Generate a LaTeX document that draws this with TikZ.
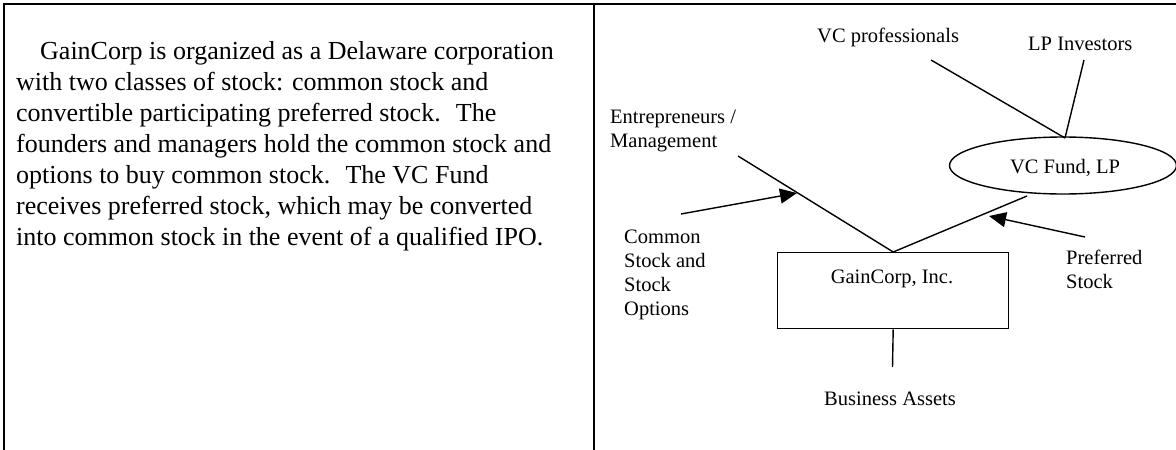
\documentclass[tikz,border=0pt]{standalone}
\usepackage{fontspec}
\setmainfont{Liberation Serif}
\usetikzlibrary{arrows.meta,shapes.geometric}

\tikzset{
  frameline/.style={line width=1.6pt},
  link/.style={line width=1.4pt},
  flow/.style={line width=1.4pt, -{Triangle[length=17pt,width=15pt]}},
  body/.style={font=\fontsize{26}{31}\selectfont, inner sep=0pt, align=left},
  lbl/.style={font=\fontsize{20.5}{24}\selectfont, inner sep=0pt, align=left},
}

\begin{document}
\begin{tikzpicture}[x=1pt,y=-1pt]
\useasboundingbox (0,0) rectangle (1176,450);

% table frame: open at the bottom and on the right
\draw[frameline] (4,450) -- (4,4) -- (1176,4);
\draw[frameline] (594,4) -- (594,450);

% left cell: description
\node[body, anchor=north west] (para) at (16,41)
  {\hspace*{24pt}GainCorp is organized as a Delaware corporation\\
   with two classes of stock: common stock and\\
   convertible participating preferred stock.~ The\\
   founders and managers hold the common stock and\\
   options to buy common stock.~ The VC Fund\\
   receives preferred stock, which may be converted\\
   into common stock in the event of a qualified IPO.};

% right cell: structure chart
\node[lbl, anchor=base west] (vcprof) at (817,42) {VC professionals};
\node[lbl, anchor=base west] (lpinv) at (1028,50) {LP Investors};
\node[lbl, anchor=base west] (entre) at (610,123) {Entrepreneurs /};
\node[lbl, anchor=base west] (mgmt) at (610,147) {Management};

\node[draw, link, ellipse, minimum width=227pt, minimum height=57pt,
      font=\fontsize{20.5}{24}\selectfont] (fund) at (1063,165.5) {};
\node[lbl, anchor=base] (fundtxt) at (1065,173) {VC Fund, LP};

\node[draw, link, rectangle, minimum width=231pt, minimum height=76pt,
      anchor=north west, inner sep=0pt] (corp) at (777,252) {};
\node[lbl, anchor=base] (corptxt) at (892,283) {GainCorp, Inc.};

\node[lbl, anchor=base west] (common1) at (624,243) {Common};
\node[lbl, anchor=base west] (common2) at (624,267) {Stock and};
\node[lbl, anchor=base west] (common3) at (624,291) {Stock};
\node[lbl, anchor=base west] (common4) at (624,315) {Options};

\node[lbl, anchor=base west] (pref1) at (1066,264) {Preferred};
\node[lbl, anchor=base west] (pref2) at (1066,288) {Stock};

\node[lbl, anchor=base] (assets) at (890,405) {Business Assets};

% free ends of the connectors
\coordinate (vcEnd) at (931,60);
\coordinate (lpEnd) at (1084,60);
\coordinate (fundTop) at (1065,138);
\coordinate (entreEnd) at (738,156);
\coordinate (fundFoot) at (1027,196);
\coordinate (assetsEnd) at (892.5,367);
\coordinate (commonTail) at (681,214);
\coordinate (commonTip) at (797,193);
\coordinate (prefTail) at (1085,237);
\coordinate (prefTip) at (989,216);

% ownership lines
\draw[link] (vcEnd) -- (fundTop);
\draw[link] (lpEnd) -- (fundTop);
\draw[link] (entreEnd) -- (corp.north);
\draw[link] (corp.north) -- (fundFoot);
\draw[link] (corp.south) -- (assetsEnd);

% securities issued
\draw[flow] (commonTail) -- (commonTip);
\draw[flow] (prefTail) -- (prefTip);
\end{tikzpicture}
\end{document}
